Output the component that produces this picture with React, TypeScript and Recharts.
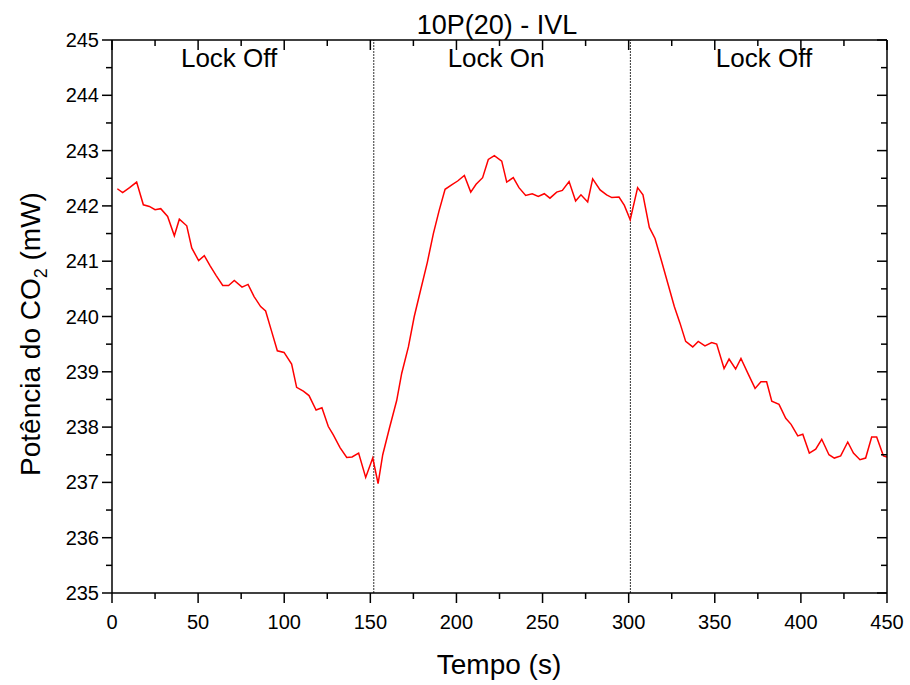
import React from 'react';
import { LineChart, Line, XAxis, YAxis, ReferenceLine, ReferenceDot } from 'recharts';

const times = [
  3.1, 6.2, 10.2, 14.3, 18.2, 21.7, 25.0, 28.3, 32.3, 36.2, 39.1, 43.4, 46.3, 50.3, 53.6, 56.9, 60.5, 64.3, 67.7, 71.0,
  75.5, 79.0, 82.5, 86.3, 89.2, 92.6, 96.0, 99.9, 104.3, 107.2, 111.1, 114.4, 118.5, 121.9, 125.6, 128.5, 132.4, 136.3, 139.4, 143.2,
  147.3, 151.4, 154.5, 157.2, 161.0, 165.3, 168.2, 172.1, 175.5, 179.2, 183.1, 186.6, 189.9, 193.4, 197.2, 200.7, 204.6, 208.3, 211.4, 215.2,
  218.5, 222.0, 226.3, 229.2, 233.0, 236.3, 240.2, 244.0, 247.5, 251.0, 254.3, 258.2, 261.5, 265.4, 269.2, 272.3, 276.2, 279.1, 283.4, 287.2,
  290.2, 294.4, 297.5, 300.9, 305.2, 308.3, 312.0, 315.3, 319.2, 323.0, 326.5, 329.8, 333.1, 337.2, 340.4, 344.3, 348.2, 351.1, 355.4, 358.3,
  362.1, 365.2, 369.1, 373.4, 376.8, 380.1, 383.1, 387.3, 391.2, 394.3, 398.2, 401.1, 404.9, 408.6, 412.1, 416.3, 419.4, 423.1, 427.2, 430.5,
  434.3, 437.6, 441.1, 444.0, 447.9, 450.0,
];

const power = [
  242.31, 242.24, 242.33, 242.43, 242.02, 241.99, 241.93, 241.95, 241.81, 241.46, 241.76, 241.64, 241.24, 241.01, 241.10, 240.92, 240.74, 240.56, 240.56, 240.65,
  240.53, 240.58, 240.36, 240.18, 240.10, 239.74, 239.38, 239.35, 239.14, 238.72, 238.65, 238.57, 238.31, 238.35, 238.01, 237.86, 237.63, 237.45, 237.46, 237.53,
  237.09, 237.44, 236.98, 237.50, 237.97, 238.48, 238.97, 239.45, 240.00, 240.48, 240.98, 241.50, 241.91, 242.30, 242.38, 242.45, 242.55, 242.25, 242.39, 242.51,
  242.84, 242.91, 242.81, 242.43, 242.51, 242.33, 242.19, 242.22, 242.17, 242.22, 242.14, 242.25, 242.28, 242.44, 242.09, 242.20, 242.07, 242.49, 242.29, 242.20,
  242.15, 242.16, 242.01, 241.75, 242.33, 242.20, 241.61, 241.41, 240.99, 240.57, 240.18, 239.88, 239.55, 239.45, 239.55, 239.47, 239.53, 239.50, 239.06, 239.23,
  239.05, 239.24, 238.98, 238.70, 238.82, 238.82, 238.47, 238.41, 238.16, 238.05, 237.84, 237.87, 237.53, 237.60, 237.78, 237.50, 237.44, 237.48, 237.73, 237.53,
  237.41, 237.44, 237.82, 237.82, 237.48, 237.46,
];

const xTicks = [0, 25, 50, 75, 100, 125, 150, 175, 200, 225, 250, 275, 300, 325, 350, 375, 400, 425, 450];
const yTicks = [235, 235.5, 236, 236.5, 237, 237.5, 238, 238.5, 239, 239.5, 240, 240.5, 241, 241.5, 242, 242.5, 243, 243.5, 244, 244.5, 245];
const boundaries = [152, 301];
const regionLabels = [
  { x: 68, text: 'Lock Off' },
  { x: 223, text: 'Lock On' },
  { x: 378.6, text: 'Lock Off' },
];

const data = times.map((t, i) => ({ t, p: power[i] }));

const FONT = '"Liberation Sans", Arial, Helvetica, sans-serif';

const BottomTick = (props: any) => {
  const { x, y, payload } = props;
  const major = payload.value % 50 === 0;
  return (
    <g>
      <line x1={x} y1={y} x2={x} y2={y + (major ? 10 : 6)} stroke="#000" strokeWidth={1.5} />
      {major && (
        <text x={x} y={y + 36} textAnchor="middle" fontSize={20} fontFamily={FONT} fill="#000">
          {payload.value}
        </text>
      )}
    </g>
  );
};

const TopTick = (props: any) => {
  const { x, y, payload } = props;
  const major = payload.value % 50 === 0;
  return <line x1={x} y1={y} x2={x} y2={y + (major ? 10 : 6)} stroke="#000" strokeWidth={1.5} />;
};

const LeftTick = (props: any) => {
  const { x, y, payload } = props;
  const major = Number.isInteger(payload.value);
  return (
    <g>
      <line x1={x} y1={y} x2={x - (major ? 10 : 6)} y2={y} stroke="#000" strokeWidth={1.5} />
      {major && (
        <text x={x - 13} y={y + 7} textAnchor="end" fontSize={20} fontFamily={FONT} fill="#000">
          {payload.value}
        </text>
      )}
    </g>
  );
};

const RightTick = (props: any) => {
  const { x, y, payload } = props;
  const major = Number.isInteger(payload.value);
  return <line x1={x} y1={y} x2={x - (major ? 10 : 6)} y2={y} stroke="#000" strokeWidth={1.5} />;
};

const TitleLabel = () => (
  <text x={497} y={34} textAnchor="middle" fontSize={27} fontFamily={FONT} fill="#000">
    10P(20) - IVL
  </text>
);

const XTitle = () => (
  <text x={499} y={674} textAnchor="middle" fontSize={28} fontFamily={FONT} fill="#000">
    Tempo (s)
  </text>
);

const YTitle = () => (
  <text
    x={0}
    y={0}
    transform="translate(40, 334) rotate(-90)"
    textAnchor="middle"
    fontSize={28}
    fontFamily={FONT}
    fill="#000"
  >
    <tspan>Potência do CO</tspan>
    <tspan dy={7} fontSize={18}>2</tspan>
    <tspan dy={-7}> (mW)</tspan>
  </text>
);

const RegionLabel = (text: string) => (props: any) => {
  const vb = props.viewBox || {};
  const cx = vb.x + (vb.width || 0) / 2;
  const cy = vb.y + (vb.height || 0) / 2;
  return (
    <text x={cx} y={cy + 9} textAnchor="middle" fontSize={26} fontFamily={FONT} fill="#000">
      {text}
    </text>
  );
};

export default function App() {
  return (
    <div style={{ position: 'absolute', left: 0, top: 0, width: 910, height: 685, background: '#fff' }}>
      <LineChart width={910} height={685} data={data} margin={{ top: 30, right: 13, bottom: 52, left: 52 }}>
        <XAxis
          xAxisId="bottom"
          dataKey="t"
          type="number"
          domain={[0, 450]}
          ticks={xTicks}
          interval={0}
          orientation="bottom"
          height={40}
          tickSize={0}
          tickMargin={0}
          tickLine={false}
          axisLine={{ stroke: '#000', strokeWidth: 1.5 }}
          tick={<BottomTick />}
          allowDataOverflow
          label={{ content: XTitle }}
        />
        <XAxis
          xAxisId="top"
          dataKey="t"
          type="number"
          domain={[0, 450]}
          ticks={xTicks}
          interval={0}
          orientation="top"
          height={10}
          tickSize={0}
          tickMargin={0}
          tickLine={false}
          axisLine={{ stroke: '#000', strokeWidth: 1.5 }}
          tick={<TopTick />}
          allowDataOverflow
          label={{ content: TitleLabel }}
        />
        <YAxis
          yAxisId="left"
          type="number"
          domain={[235, 245]}
          ticks={yTicks}
          interval={0}
          orientation="left"
          width={60}
          tickSize={0}
          tickMargin={0}
          tickLine={false}
          axisLine={{ stroke: '#000', strokeWidth: 1.5 }}
          tick={<LeftTick />}
          allowDataOverflow
          label={{ content: YTitle }}
        />
        <YAxis
          yAxisId="right"
          type="number"
          domain={[235, 245]}
          ticks={yTicks}
          interval={0}
          orientation="right"
          width={10}
          tickSize={0}
          tickMargin={0}
          tickLine={false}
          axisLine={{ stroke: '#000', strokeWidth: 1.5 }}
          tick={<RightTick />}
          allowDataOverflow
        />
        {boundaries.map((b) => (
          <ReferenceLine
            key={b}
            x={b}
            xAxisId="bottom"
            yAxisId="left"
            stroke="#333"
            strokeWidth={1}
            strokeDasharray="2 1"
          />
        ))}
        {regionLabels.map((r, i) => (
          <ReferenceDot
            key={i}
            x={r.x}
            y={244.67}
            xAxisId="bottom"
            yAxisId="left"
            r={0}
            fill="none"
            stroke="none"
            label={{ content: RegionLabel(r.text) }}
          />
        ))}
        <Line
          xAxisId="bottom"
          yAxisId="left"
          type="linear"
          dataKey="p"
          stroke="#ff0000"
          strokeWidth={1.5}
          dot={false}
          isAnimationActive={false}
        />
      </LineChart>
    </div>
  );
}
